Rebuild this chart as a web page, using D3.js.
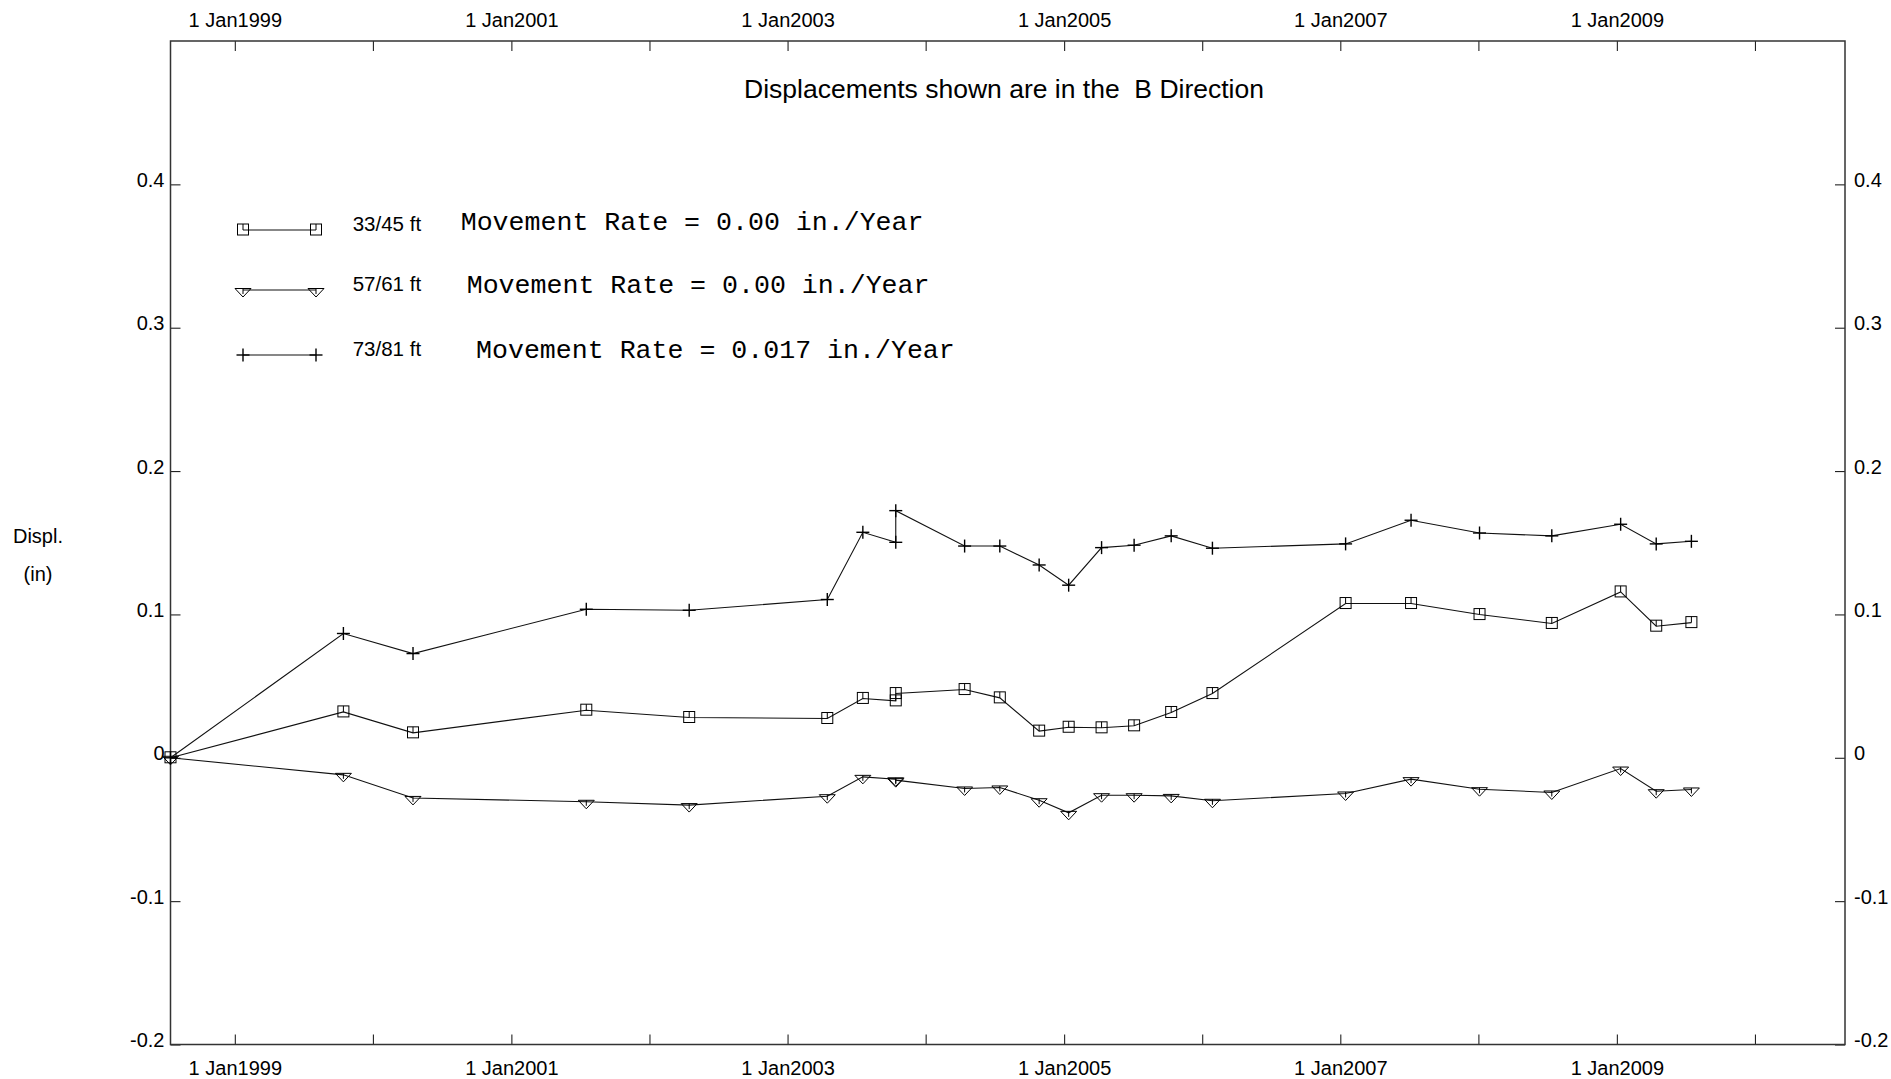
<!DOCTYPE html>
<html>
<head>
<meta charset="utf-8">
<script src="https://cdn.jsdelivr.net/npm/d3@7"></script>
<style>
  html, body { margin: 0; padding: 0; background: #fff; }
  svg { display: block; }
  text { white-space: pre; }
</style>
</head>
<body>
<svg id="chart" width="1891" height="1079"></svg>
<script>
// ---------------- DATA ----------------
const dates = ["1998-07-15","1999-10-15","2000-04-16","2001-07-18","2002-04-16","2003-04-16",
  "2003-07-19","2003-10-14","2003-10-14","2004-04-13","2004-07-15","2004-10-27","2005-01-13",
  "2005-04-10","2005-07-05","2005-10-11","2006-01-28","2007-01-15","2007-07-07","2008-01-04",
  "2008-07-13","2009-01-11","2009-04-15","2009-07-17"];

const series33_45 = [0, 0.032, 0.0174, 0.0332, 0.0281, 0.0274, 0.0414, 0.0397, 0.0448, 0.0476,
  0.0418, 0.0186, 0.0213, 0.0209, 0.0223, 0.0316, 0.0448, 0.1076, 0.1076, 0.0999, 0.0937,
  0.1157, 0.0918, 0.0943];

const series57_61 = [0, -0.0119, -0.028, -0.0307, -0.033, -0.0268, -0.0133, -0.015, -0.0156,
  -0.0214, -0.0207, -0.0296, -0.0384, -0.0261, -0.0261, -0.0266, -0.030, -0.0249, -0.0149,
  -0.0219, -0.0242, -0.0075, -0.0233, -0.0221];

const series73_81 = [0, 0.0867, 0.0727, 0.1036, 0.1029, 0.1104, 0.1573, 0.1503, 0.1724, 0.1477,
  0.1477, 0.1345, 0.1204, 0.1466, 0.1483, 0.1548, 0.1462, 0.1492, 0.1657, 0.1568, 0.1548,
  0.1629, 0.1492, 0.151];

const seriesNames = ["33/45 ft", "57/61 ft", "73/81 ft"];
const seriesRates = ["0.00", "0.00", "0.017"];
const seriesMarkers = ["square", "triangle", "plus"];
const yTickValues = [-0.2, -0.1, 0, 0.1, 0.2, 0.3, 0.4];
const xDomain = ["1998-07-15", "2010-08-27"];
const xTickRange = ["1999-01-01", "2011-01-01"];
const titleText = "Displacements shown are in the  B Direction";
const yLabel = ["Displ.", "(in)"];

// ---------------- LAYOUT ----------------
const L = 170.5, R = 1845, T = 41, B = 1044.5;
const parse = d3.utcParse("%Y-%m-%d");
const svg = d3.select("#chart");
const SANS = "'Liberation Sans', Arial, sans-serif";
const MONO = "'Liberation Mono', 'Courier New', monospace";

const x = d3.scaleUtc().domain(xDomain.map(parse)).range([L, R]);
const y = d3.scaleLinear().domain([-0.2, 0.5]).range([B, T]);

const yearTicks = d3.utcYear.range(parse(xTickRange[0]), parse(xTickRange[1]));
const xFmt = d => (d.getUTCFullYear() % 2 === 1) ? "1 Jan" + d.getUTCFullYear() : "";
const yFmt = d => String(d);

// top axis
const gTop = svg.append("g").attr("transform", `translate(0,${T})`)
  .call(d3.axisTop(x).tickValues(yearTicks).tickSize(-10).tickPadding(14).tickFormat(xFmt));
// bottom axis
const gBot = svg.append("g").attr("transform", `translate(0,${B})`)
  .call(d3.axisBottom(x).tickValues(yearTicks).tickSize(-10).tickPadding(14).tickFormat(xFmt));
gBot.selectAll("text").attr("y", 30.5).attr("dy", 0);
// left axis
const gLeft = svg.append("g").attr("transform", `translate(${L},0)`)
  .call(d3.axisLeft(y).tickValues(yTickValues).tickSize(-10).tickPadding(6).tickFormat(yFmt));
gLeft.selectAll("text").attr("dy", 0).attr("y", 2);
// right axis
const gRight = svg.append("g").attr("transform", `translate(${R},0)`)
  .call(d3.axisRight(y).tickValues(yTickValues).tickSize(-10).tickPadding(9).tickFormat(yFmt));
gRight.selectAll("text").attr("dy", 0).attr("y", 2);

[gTop, gBot, gLeft, gRight].forEach(g => {
  g.select(".domain").remove();
  g.selectAll(".tick line").attr("stroke", "#222").attr("stroke-width", 1.1);
  g.selectAll("text").attr("font-family", SANS).attr("font-size", 20).attr("fill", "#000");
});

// frame
svg.append("rect").attr("x", L).attr("y", T).attr("width", R - L).attr("height", B - T)
  .attr("fill", "none").attr("stroke", "#333").attr("stroke-width", 1.5);

// title
svg.append("text").attr("x", 1004).attr("y", 98).attr("text-anchor", "middle")
  .attr("font-family", SANS).attr("font-size", 26.5).attr("xml:space", "preserve").text(titleText);

// y label
svg.selectAll("text.ylab").data(yLabel).enter().append("text").attr("class", "ylab")
  .attr("x", 38).attr("y", (d, i) => i === 0 ? 543 : 581).attr("text-anchor", "middle")
  .attr("font-family", SANS).attr("font-size", 20).text(d => d);

// ---------------- MARKERS ----------------
function drawMarker(g, type, cx, cy) {
  const s = g.append("g").attr("fill", "none").attr("stroke", "#000").attr("stroke-width", 1);
  if (type === "square") {
    s.append("rect").attr("x", cx - 5.5).attr("y", cy - 6).attr("width", 11).attr("height", 11)
      .attr("fill", "none");
    s.append("line").attr("x1", cx).attr("x2", cx).attr("y1", cy - 6).attr("y2", cy);
  } else if (type === "triangle") {
    s.append("path").attr("d", `M${cx - 8},${cy - 1.5}L${cx + 8},${cy - 1.5}L${cx},${cy + 7}Z`);
    s.append("line").attr("x1", cx).attr("x2", cx).attr("y1", cy - 1.5).attr("y2", cy + 4);
  } else {
    s.attr("stroke-width", 1.4);
    s.append("line").attr("x1", cx - 6.5).attr("x2", cx + 6.5).attr("y1", cy).attr("y2", cy);
    s.append("line").attr("x1", cx).attr("x2", cx).attr("y1", cy - 6.5).attr("y2", cy + 6.5);
  }
}

const allSeries = [series33_45, series57_61, series73_81];
const line = d3.line().x(d => x(d.date)).y(d => y(d.value));
const plot = svg.append("g");

allSeries.forEach((vals, si) => {
  const pts = vals.map((v, i) => ({ date: parse(dates[i]), value: v }));
  plot.append("path").datum(pts).attr("d", line)
    .attr("fill", "none").attr("stroke", "#111").attr("stroke-width", 1.1);
  const mg = plot.append("g");
  pts.forEach(p => drawMarker(mg, seriesMarkers[si], x(p.date), y(p.value)));
});

// ---------------- LEGEND ----------------
const legRowY = [230, 290, 355];
const rateX = [460.7, 466.7, 476];
const rateDy = [0, 3, 2.5];
seriesNames.forEach((name, i) => {
  const g = svg.append("g");
  const yy = legRowY[i];
  g.append("line").attr("x1", 243).attr("x2", 316).attr("y1", yy).attr("y2", yy)
    .attr("stroke", "#111").attr("stroke-width", 1.1);
  drawMarker(g, seriesMarkers[i], 243, yy);
  drawMarker(g, seriesMarkers[i], 316, yy);
  g.append("text").attr("x", 352.7).attr("y", yy + 1)
    .attr("font-family", SANS).attr("font-size", 20.5).text(name);
  g.append("text").attr("x", rateX[i]).attr("y", yy + rateDy[i])
    .attr("font-family", MONO).attr("font-size", 26.6).attr("xml:space", "preserve")
    .text("Movement Rate = " + seriesRates[i] + " in./Year");
});
</script>
</body>
</html>
